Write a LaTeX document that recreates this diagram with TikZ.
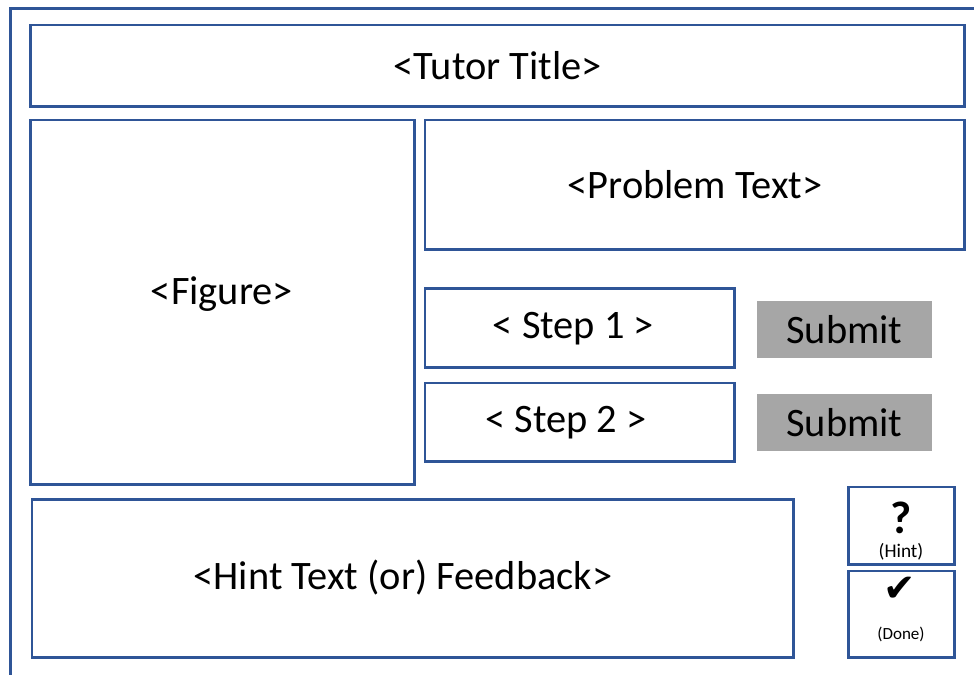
\documentclass[tikz,border=0pt]{standalone}
\usepackage{fontspec}
\setmainfont{Carlito}
\newfontfamily\symfont{DejaVu Sans}
\usetikzlibrary{positioning}
\definecolor{frameblue}{RGB}{47,85,151}
\definecolor{btngray}{RGB}{166,166,166}
\tikzset{
    %Define style for boxes
    panel/.style={
           rectangle,
           draw=frameblue,
           line width=1.7pt,
           anchor=north west,
           inner sep=0pt,
           outer sep=0pt,
           font=\fontsize{23}{27}\selectfont,
           text centered},
    %Define style for submit buttons
    submitbtn/.style={
           rectangle,
           fill=btngray,
           anchor=north west,
           inner sep=0pt,
           outer sep=0pt,
           minimum width=3.5cm,
           minimum height=1.14cm,
           font=\fontsize{23}{27}\selectfont},
    % Define style for the small captions
    caption/.style={
           inner sep=0pt,
           font=\fontsize{9.7}{11}\selectfont}
}

\begin{document}
\begin{tikzpicture}[x=0.02cm,y=-0.02cm]
\useasboundingbox (0,0) rectangle (974,675);
 %outer frame
\draw[frameblue, line width=1.7pt] (10.5,675) -- (10.5,8.5) -- (974,8.5);
 %panels
\node[panel, minimum width=18.69cm, minimum height=1.63cm] (title) at (30.5,25) {<Tutor Title>};
\node[panel, minimum width=7.68cm, minimum height=7.29cm] (figure) at (30.5,120) {};
\node[panel, minimum width=10.8cm, minimum height=2.6cm] (problem) at (425,120) {<Problem Text>};
\node[panel, minimum width=6.2cm, minimum height=1.58cm] (step1) at (425,288.5) {};
\node[panel, minimum width=6.2cm, minimum height=1.58cm] (step2) at (425,383) {};
\node[panel, minimum width=15.24cm, minimum height=3.17cm] (feedback) at (32,499.5) {};
\node[panel, minimum width=2.12cm, minimum height=1.56cm] (hintbtn) at (848.5,487) {};
\node[panel, minimum width=2.12cm, minimum height=1.74cm] (donebtn) at (848.5,571) {};
 %labels
\node[font=\fontsize{23}{27}\selectfont] (figlbl) at (222,294) {<Figure>};
\node[font=\fontsize{23}{27}\selectfont] (step1lbl) at (573.5,329) {< Step 1 >};
\node[font=\fontsize{23}{27}\selectfont] (step2lbl) at (566,423) {< Step 2 >};
\node[font=\fontsize{23}{27}\selectfont] (feedbacklbl) at (403,578) {<Hint Text (or) Feedback>};
 %buttons
\node[submitbtn] (submit1) at (757,301) {Submit};
\node[submitbtn] (submit2) at (757,394) {Submit};
\node[inner sep=0pt, font=\fontsize{26}{28}\selectfont\bfseries] (qmark) at (901,518) {?};
\node[caption, font=\fontsize{11}{13}\selectfont] (hintlbl) at (901,552) {(Hint)};
\node[inner sep=0pt, font=\fontsize{22}{24}\symfont] (tick) at (900,589) {✔};
\node[caption] (donelbl) at (901,634) {(Done)};
\end{tikzpicture}
\end{document}
